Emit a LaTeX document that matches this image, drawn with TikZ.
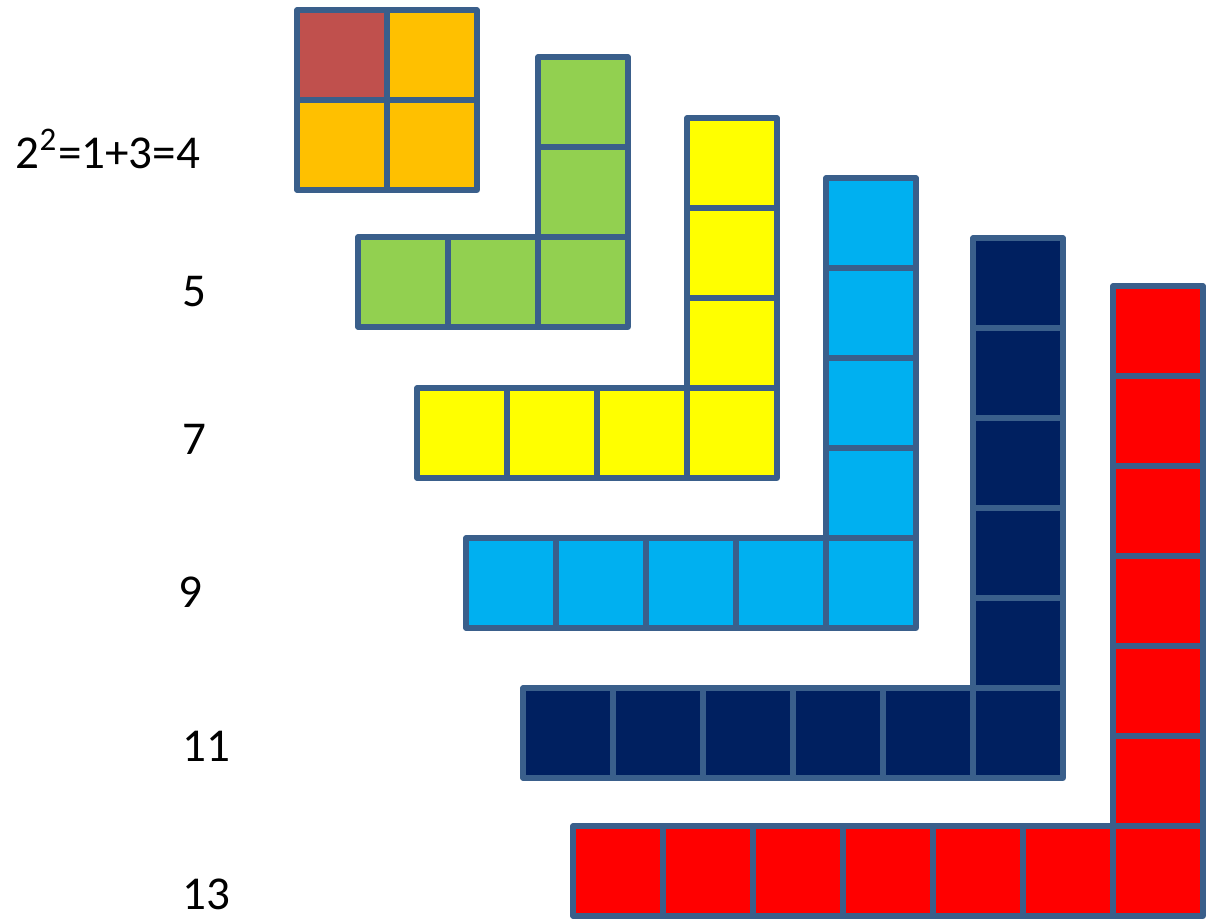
\documentclass[tikz,border=0pt]{standalone}
\usepackage{fontspec}
\setmainfont{Carlito}
\usepackage{tikz}
\definecolor{borde}{RGB}{58,95,139}
\definecolor{ladrillo}{RGB}{192,80,77}
\definecolor{naranja}{RGB}{255,192,0}
\definecolor{verde}{RGB}{146,208,80}
\definecolor{amarillo}{RGB}{255,255,0}
\definecolor{celeste}{RGB}{0,176,240}
\definecolor{marino}{RGB}{0,32,96}
\definecolor{rojo}{RGB}{255,0,0}

% L-shaped gnomon: right x, bottom y, arm length, colour
\newcommand{\gnomon}[4]{%
  \foreach \i in {1,...,#3}
    \draw[celda, fill=#4] (#1-\i*90, #2-90) rectangle ++(90,90);
  \foreach \j in {2,...,#3}
    \draw[celda, fill=#4] (#1-90, #2-\j*90) rectangle ++(90,90);
}

\begin{document}
\begin{tikzpicture}[x=0.01cm, y=-0.01cm,
  celda/.style={draw=borde, line width=1.45pt, line join=round},
  rotulo/.style={anchor=base west, inner sep=0pt, font=\fontsize{13.4pt}{16pt}\selectfont}]
  \useasboundingbox (0,0) rectangle (1214,919);
  % 2x2 square
  \draw[celda, fill=ladrillo] (297,10) rectangle ++(90,90);
  \draw[celda, fill=naranja] (387,10) rectangle ++(90,90);
  \draw[celda, fill=naranja] (297,100) rectangle ++(90,90);
  \draw[celda, fill=naranja] (387,100) rectangle ++(90,90);
  % gnomons
  \gnomon{628}{327}{3}{verde}
  \gnomon{777}{478}{4}{amarillo}
  \gnomon{916}{628}{5}{celeste}
  \gnomon{1063}{778}{6}{marino}
  \gnomon{1203}{916}{7}{rojo}
  % labels
  \node[rotulo] (cuatro) at (15,169) {2\textsuperscript{2}=1+3=4};
  \node[rotulo] (cinco) at (182,307) {5};
  \node[rotulo] (siete) at (182,455) {7};
  \node[rotulo] (nueve) at (178,608) {9};
  \node[rotulo] (once) at (182,762) {11};
  \node[rotulo] (trece) at (182,910) {13};
\end{tikzpicture}
\end{document}
